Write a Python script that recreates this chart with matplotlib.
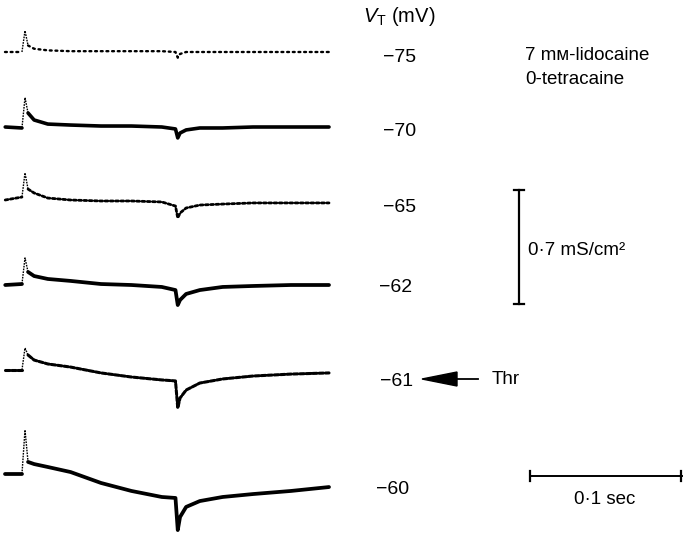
import matplotlib
matplotlib.use("Agg")
import matplotlib.pyplot as plt
from matplotlib.patches import Polygon

plt.rcParams['font.family'] = ['Liberation Sans', 'DejaVu Sans']
plt.rcParams['mathtext.fontset'] = 'custom'
plt.rcParams['mathtext.rm'] = 'Liberation Sans'
plt.rcParams['mathtext.it'] = 'Liberation Sans:italic'

# ---- data: time (ms, pulse onset at 0) and conductance change (mS/cm^2) ----
time_ms = [-13, -2, 0, 2, 6, 15, 30, 50, 70, 90, 99, 100.5, 102, 106, 115, 130, 150, 175, 200]

vt_labels = ["\u221275", "\u221270", "\u221265", "\u221262", "\u221261", "\u221260"]

g_m75 = [0, 0, 0.13, 0.04, 0.02, 0.01, 0.005, 0.005, 0.005, 0.005, 0, -0.035, -0.012, 0, 0, 0, 0, 0, 0]
g_m70 = [0, -0.006, 0.18, 0.086, 0.043, 0.018, 0.012, 0.006, 0.006, 0, -0.012, -0.067, -0.037, -0.018, -0.006, -0.006, 0, 0, 0]
g_m65 = [0, 0.018, 0.166, 0.067, 0.043, 0.012, 0, -0.006, -0.006, -0.012, -0.037, -0.11, -0.08, -0.049, -0.031, -0.025, -0.018, -0.018, -0.018]
g_m62 = [0, 0.006, 0.166, 0.08, 0.055, 0.037, 0.025, 0.006, 0, -0.012, -0.031, -0.123, -0.092, -0.055, -0.031, -0.012, -0.006, 0, 0]
g_m61 = [0, 0, 0.135, 0.092, 0.061, 0.037, 0.018, -0.018, -0.043, -0.061, -0.067, -0.233, -0.172, -0.123, -0.08, -0.055, -0.037, -0.025, -0.018]
g_m60 = [0, 0, 0.27, 0.074, 0.061, 0.043, 0.012, -0.055, -0.104, -0.141, -0.147, -0.344, -0.264, -0.202, -0.166, -0.141, -0.123, -0.104, -0.08]

traces = [g_m75, g_m70, g_m65, g_m62, g_m61, g_m60]

scale_g = 0.7      # mS/cm^2
scale_t = 100      # ms

# ---- layout ----
W, H = 683, 536
PX_PER_MS = 1.52
PX_PER_G = 163.0
X0 = 25  # pixel of pulse onset
baselines_px = [52, 127, 200, 285, 370, 474]
label_pos = [(383, 57), (383, 131), (383, 208), (379, 287), (380, 382), (376, 489)]
styles = [(0, (0.8, 1.6)), '-', (0, (1.0, 0.9)), '-', (0, (1.4, 0.7)), '-']
widths = [1.7, 2.6, 2.0, 2.7, 2.2, 2.7]

fig = plt.figure(figsize=(W / 100, H / 100), dpi=100)
ax = fig.add_axes([0, 0, 1, 1])
ax.set_xlim(-X0 / PX_PER_MS, (W - X0) / PX_PER_MS)
ax.set_ylim(-H / PX_PER_G, 0)
ax.axis('off')

def fx(px):
    return px / W

def fy(py):
    return 1 - py / H

i_on = time_ms.index(0)
for g, b, ls, lw in zip(traces, baselines_px, styles, widths):
    off = -b / PX_PER_G
    y = [off + v for v in g]
    # holding segment and pulse/tail segment
    ax.plot(time_ms[:i_on], y[:i_on], color='black', lw=lw, ls=ls,
            solid_joinstyle='round', dash_capstyle='round', solid_capstyle='round')
    ax.plot(time_ms[i_on + 1:], y[i_on + 1:], color='black', lw=lw, ls=ls,
            solid_joinstyle='round', dash_capstyle='round', solid_capstyle='round')
    # onset artefact drawn thin
    ax.plot(time_ms[i_on - 1:i_on + 2], y[i_on - 1:i_on + 2], color='black',
            lw=1.0, ls=(0, (1.2, 0.8)))

fs = 14
for lab, (px, py) in zip(vt_labels, label_pos):
    fig.text(fx(px), fy(py), lab, fontsize=fs, ha='left', va='center')

fig.text(fx(363), fy(17), r"$V_{\rm T}$ (mV)", fontsize=14.5, ha='left', va='center')
fig.text(fx(525), fy(55), "7 m\u043c-lidocaine", fontsize=13.5, ha='left', va='center')
fig.text(fx(525), fy(80), "0-tetracaine", fontsize=13.5, ha='left', va='center')

# vertical scale bar (0.7 mS/cm^2)
t_v = (519 - X0) / PX_PER_MS
g_top = -190 / PX_PER_G
g_bot = g_top - scale_g
ax.plot([t_v, t_v], [g_top, g_bot], color='black', lw=1.6)
cap_t = 5 / PX_PER_MS
for gg in (g_top, g_bot):
    ax.plot([t_v - cap_t, t_v + cap_t], [gg, gg], color='black', lw=1.6)
fig.text(fx(528), fy(250), "0\u00b77 mS/cm\u00b2", fontsize=13.5, ha='left', va='center')

# horizontal scale bar (0.1 sec)
t_h0 = (530 - X0) / PX_PER_MS
t_h1 = t_h0 + scale_t
g_h = -476 / PX_PER_G
ax.plot([t_h0, t_h1], [g_h, g_h], color='black', lw=1.4, clip_on=False)
cap_g = 5 / PX_PER_G
for tt in (t_h0, t_h1 - 0.6):
    ax.plot([tt, tt], [g_h - cap_g, g_h + cap_g], color='black', lw=1.6, clip_on=False)
fig.text(fx(605), fy(500), "0\u00b71 sec", fontsize=13.5, ha='center', va='center')

# threshold arrow
ov = fig.add_axes([0, 0, 1, 1])
ov.set_xlim(0, W)
ov.set_ylim(H, 0)
ov.axis('off')
ov.add_patch(Polygon([[422, 379], [457, 372], [457, 386]], closed=True,
                     facecolor='black', edgecolor='black'))
ov.plot([455, 478], [379, 379], color='black', lw=1.3)
fig.text(fx(492), fy(380), "Thr", fontsize=13.5, ha='left', va='center')

fig.savefig("out.png", dpi=100)
